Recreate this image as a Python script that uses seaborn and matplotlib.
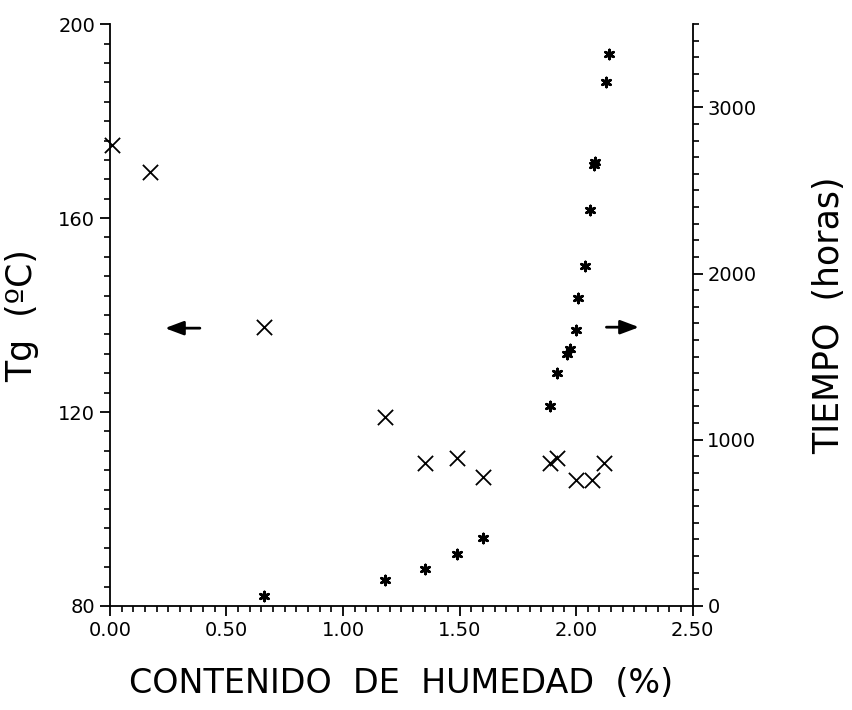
"""Tg and exposure time versus moisture content (dual y-axis scatter)."""
import matplotlib
matplotlib.use("Agg")
import matplotlib.pyplot as plt
import numpy as np
import seaborn as sns
from matplotlib.ticker import MultipleLocator

# Tg (left axis), marker "x"
moisture_tg = [0.01, 0.17, 0.66, 1.18, 1.35, 1.49, 1.60, 1.89, 1.92, 2.00, 2.07, 2.12]
tg_values = [175, 169.5, 137.5, 119, 109.5, 110.5, 106.5, 109.5, 110.5, 106, 106, 109.5]

# exposure time (right axis), asterisk marker
moisture_time = [0.66, 1.18, 1.35, 1.49, 1.60, 1.89, 1.92, 1.96, 1.975, 2.00, 2.01,
                 2.04, 2.06, 2.075, 2.08, 2.13, 2.14]
time_hours = [60, 155, 225, 315, 410, 1205, 1400, 1515, 1545, 1660, 1855,
              2045, 2380, 2650, 2670, 3150, 3320]

x_ticks = [0.0, 0.5, 1.0, 1.5, 2.0, 2.5]
tg_ticks = [80, 120, 160, 200]
time_ticks = [0, 1000, 2000, 3000]

sns.set_style("ticks")
plt.rcParams["font.family"] = ["DejaVu Sans"]
plt.rcParams["text.color"] = "black"
plt.rcParams["axes.labelcolor"] = "black"

fig = plt.figure(figsize=(8.52, 7.1), dpi=100)
fig.subplots_adjust(left=0.129, right=0.813, bottom=0.1465, top=0.966)
ax = fig.add_subplot(111)
ax2 = ax.twinx()

sns.scatterplot(x=moisture_tg, y=tg_values, ax=ax, marker="x", color="black",
                s=120, linewidth=1.3, clip_on=False, zorder=3)
sns.scatterplot(x=moisture_time, y=time_hours, ax=ax2, marker=(6, 2, 0), color="black",
                s=42, linewidth=2.0, clip_on=False, zorder=3)

ax.set_xlim(0, 2.5)
ax.set_ylim(80, 200)
ax2.set_ylim(0, 3500)

ax.set_xticks(x_ticks)
ax.set_xticklabels([f"{v:.2f}" for v in x_ticks])
ax.xaxis.set_minor_locator(MultipleLocator(0.05))
ax.set_yticks(tg_ticks)
ax.yaxis.set_minor_locator(MultipleLocator(4))
ax2.set_yticks(time_ticks)
ax2.yaxis.set_minor_locator(MultipleLocator(100))

for a in (ax, ax2):
    a.spines["top"].set_visible(False)
    for s in a.spines.values():
        s.set_linewidth(1.3)
        s.set_color("black")
    a.tick_params(which="major", length=7, width=1.3, labelsize=14, color="black", labelcolor="black")
    a.tick_params(which="minor", length=4.5, width=1.2, color="black")
ax.spines["right"].set_visible(False)
ax2.spines["left"].set_visible(False)
ax2.spines["bottom"].set_visible(False)

ax.set_xlabel("CONTENIDO  DE  HUMEDAD  (%)", fontsize=24, labelpad=20)
ax.set_ylabel("Tg  (ºC)", fontsize=25, labelpad=14)
ax2.set_ylabel("TIEMPO  (horas)", fontsize=25, labelpad=40)

arrow_style = dict(arrowstyle="-|>,head_length=0.8,head_width=0.3", color="black",
                   lw=2, mutation_scale=14, shrinkA=0, shrinkB=0)
ax.annotate("", xy=(0.236, 137.3), xytext=(0.386, 137.3), arrowprops=arrow_style)
ax.annotate("", xy=(2.27, 137.5), xytext=(2.13, 137.5), arrowprops=arrow_style)

plt.savefig("out.png", dpi=100)
